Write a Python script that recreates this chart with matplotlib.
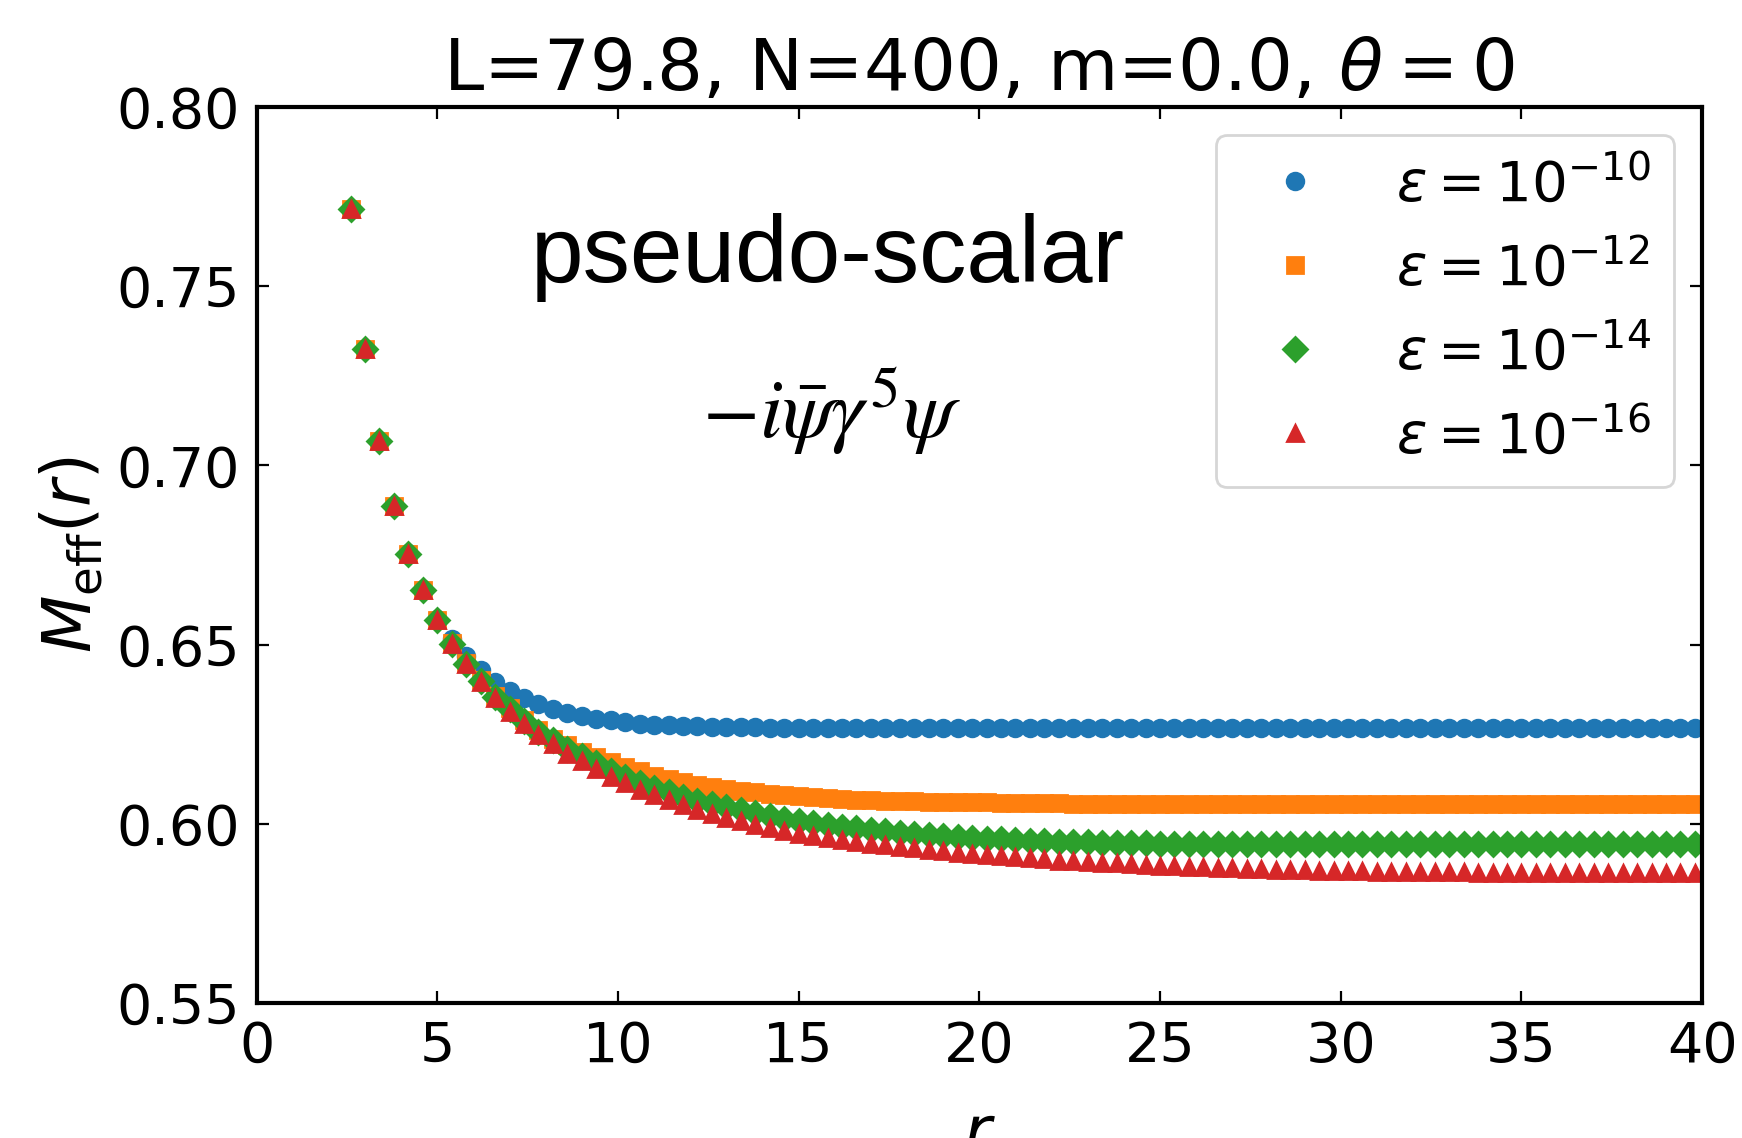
import numpy as np
import matplotlib
matplotlib.use("Agg")
import matplotlib.pyplot as plt

# sampling grid in r (step 0.4, first point at 2.6)
r = np.round(np.arange(2.6, 39.9, 0.4), 1)

labels = [r"$\varepsilon = 10^{-10}$", r"$\varepsilon = 10^{-12}$",
          r"$\varepsilon = 10^{-14}$", r"$\varepsilon = 10^{-16}$"]
markers = ["o", "s", "D", "^"]

m_eps10 = [
    0.7714, 0.7324, 0.7067, 0.6888, 0.6756, 0.6655, 0.6572, 0.6515, 0.6467, 0.6428,
    0.6396, 0.6370, 0.6350, 0.6335, 0.6320, 0.6310, 0.6300, 0.6294, 0.6289, 0.6284,
    0.6280, 0.6277, 0.6275, 0.6273, 0.6272, 0.6271, 0.6270, 0.6269, 0.6269, 0.6268,
    0.6268, 0.6268, 0.6268, 0.6268, 0.6268, 0.6268, 0.6268, 0.6268, 0.6268, 0.6268,
    0.6268, 0.6268, 0.6268, 0.6268, 0.6268, 0.6268, 0.6268, 0.6268, 0.6268, 0.6268,
    0.6268, 0.6268, 0.6268, 0.6268, 0.6268, 0.6268, 0.6268, 0.6268, 0.6268, 0.6268,
    0.6268, 0.6268, 0.6268, 0.6268, 0.6268, 0.6268, 0.6268, 0.6268, 0.6268, 0.6268,
    0.6268, 0.6268, 0.6268, 0.6268, 0.6268, 0.6268, 0.6268, 0.6268, 0.6268, 0.6268,
    0.6268, 0.6268, 0.6268, 0.6268, 0.6268, 0.6268, 0.6268, 0.6268, 0.6268, 0.6268,
    0.6268, 0.6268, 0.6268, 0.6268,
]

m_eps12 = [
    0.7714, 0.7324, 0.7067, 0.6887, 0.6754, 0.6652, 0.6568, 0.6505, 0.6450, 0.6402,
    0.6358, 0.6322, 0.6290, 0.6262, 0.6238, 0.6219, 0.6201, 0.6187, 0.6173, 0.6159,
    0.6147, 0.6135, 0.6126, 0.6117, 0.6110, 0.6103, 0.6097, 0.6092, 0.6088, 0.6084,
    0.6081, 0.6078, 0.6075, 0.6072, 0.6070, 0.6068, 0.6066, 0.6065, 0.6064, 0.6063,
    0.6062, 0.6061, 0.6061, 0.6060, 0.6060, 0.6059, 0.6059, 0.6058, 0.6058, 0.6058,
    0.6057, 0.6057, 0.6057, 0.6057, 0.6057, 0.6057, 0.6057, 0.6057, 0.6057, 0.6057,
    0.6057, 0.6057, 0.6057, 0.6057, 0.6056, 0.6056, 0.6056, 0.6056, 0.6056, 0.6056,
    0.6056, 0.6056, 0.6056, 0.6056, 0.6056, 0.6056, 0.6056, 0.6056, 0.6056, 0.6056,
    0.6056, 0.6056, 0.6056, 0.6056, 0.6056, 0.6056, 0.6056, 0.6056, 0.6056, 0.6056,
    0.6056, 0.6056, 0.6056, 0.6056,
]

m_eps14 = [
    0.7714, 0.7324, 0.7067, 0.6887, 0.6754, 0.6652, 0.6568, 0.6503, 0.6446, 0.6398,
    0.6354, 0.6320, 0.6287, 0.6257, 0.6234, 0.6210, 0.6190, 0.6169, 0.6149, 0.6131,
    0.6115, 0.6101, 0.6088, 0.6076, 0.6065, 0.6055, 0.6046, 0.6038, 0.6030, 0.6022,
    0.6015, 0.6008, 0.6002, 0.5997, 0.5992, 0.5988, 0.5984, 0.5980, 0.5976, 0.5972,
    0.5969, 0.5966, 0.5963, 0.5961, 0.5959, 0.5957, 0.5955, 0.5953, 0.5952, 0.5951,
    0.5950, 0.5949, 0.5948, 0.5947, 0.5946, 0.5946, 0.5945, 0.5945, 0.5944, 0.5944,
    0.5944, 0.5944, 0.5943, 0.5943, 0.5943, 0.5943, 0.5943, 0.5943, 0.5943, 0.5943,
    0.5943, 0.5943, 0.5943, 0.5943, 0.5943, 0.5943, 0.5943, 0.5943, 0.5943, 0.5943,
    0.5943, 0.5943, 0.5943, 0.5943, 0.5943, 0.5943, 0.5943, 0.5943, 0.5943, 0.5943,
    0.5943, 0.5943, 0.5943, 0.5943,
]

m_eps16 = [
    0.7714, 0.7324, 0.7067, 0.6887, 0.6754, 0.6652, 0.6568, 0.6503, 0.6445, 0.6396,
    0.6351, 0.6312, 0.6278, 0.6247, 0.6222, 0.6196, 0.6175, 0.6153, 0.6131, 0.6113,
    0.6095, 0.6080, 0.6066, 0.6052, 0.6040, 0.6028, 0.6017, 0.6007, 0.5998, 0.5989,
    0.5981, 0.5973, 0.5967, 0.5960, 0.5955, 0.5950, 0.5945, 0.5941, 0.5936, 0.5932,
    0.5928, 0.5924, 0.5920, 0.5916, 0.5913, 0.5910, 0.5907, 0.5904, 0.5901, 0.5898,
    0.5896, 0.5894, 0.5892, 0.5890, 0.5888, 0.5886, 0.5884, 0.5882, 0.5881, 0.5879,
    0.5878, 0.5876, 0.5875, 0.5874, 0.5873, 0.5872, 0.5871, 0.5870, 0.5869, 0.5868,
    0.5868, 0.5867, 0.5867, 0.5866, 0.5866, 0.5865, 0.5865, 0.5865, 0.5864, 0.5864,
    0.5864, 0.5864, 0.5863, 0.5863, 0.5863, 0.5863, 0.5863, 0.5862, 0.5862, 0.5862,
    0.5862, 0.5862, 0.5862, 0.5862,
]

series = [m_eps10, m_eps12, m_eps14, m_eps16]


def main():
    plt.rcParams["font.size"] = 20

    fig = plt.figure(figsize=(8.71, 5.69), dpi=200)
    ax = fig.add_axes([0.1473, 0.1184, 0.8298, 0.7878])

    for vals, mk, lab in zip(series, markers, labels):
        ax.plot(r, vals, mk, ms=6, label=lab)

    ax.set_xlim(0, 40)
    ax.set_ylim(0.55, 0.80)
    ax.set_xticks(np.arange(0, 41, 5))
    ax.set_yticks([0.55, 0.60, 0.65, 0.70, 0.75, 0.80])
    ax.yaxis.set_major_formatter(matplotlib.ticker.FormatStrFormatter("%.2f"))
    ax.tick_params(direction="in", top=True, right=True, length=4.3, width=0.8, pad=6)
    for sp in ax.spines.values():
        sp.set_linewidth(1.5)

    ax.set_title(r"L=79.8, N=400, m=0.0, $\theta = 0$", fontsize=26)
    ax.set_xlabel(r"$r$", fontsize=24, labelpad=10)
    ax.set_ylabel(r"$M_{\rm eff}(r)$", fontsize=24)

    ax.text(0.395, 0.8315, "pseudo-scalar", transform=ax.transAxes,
            ha="center", va="center", fontsize=34, family="Liberation Sans")
    ax.text(0.3975, 0.66, r"$-i\bar{\psi}\gamma^5\psi$", transform=ax.transAxes,
            ha="center", va="center", fontsize=30, math_fontfamily="stix")

    ax.legend(loc="upper right", fontsize=20.3)

    fig.savefig("out.png", dpi=200)


if __name__ == "__main__":
    main()
